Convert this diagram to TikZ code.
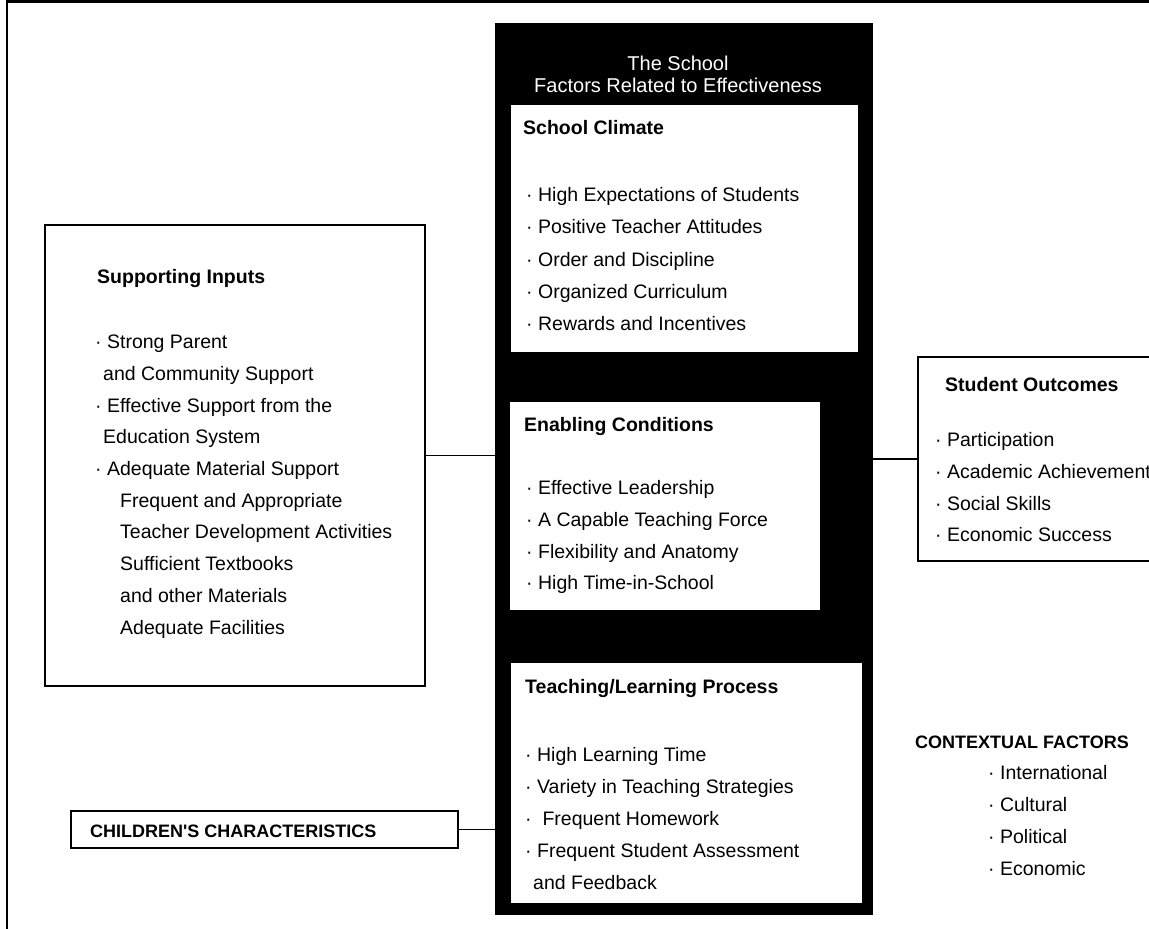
\documentclass[tikz,border=0pt]{standalone}
\usepackage{fontspec}
\setmainfont{Liberation Sans}
\usetikzlibrary{positioning}

\begin{document}
\begin{tikzpicture}[x=1pt, y=-1pt,
  panel/.style={draw, line width=1.9pt, fill=white, inner sep=0pt, anchor=north west},
  inbox/.style={fill=white, inner sep=0pt, anchor=north west},
  head/.style={anchor=base west, inner sep=0pt, font=\fontsize{19.5}{24}\selectfont\bfseries},
  item/.style={anchor=base west, inner sep=0pt, font=\fontsize{19.5}{24}\selectfont},
  caps/.style={anchor=base west, inner sep=0pt, font=\fontsize{18}{22}\selectfont\bfseries},
  link/.style={line width=1.9pt}]
  \useasboundingbox (0,0) rectangle (1149,929);
  \clip (0,0) rectangle (1149,929);
  % frame
  \draw[line width=2.4pt] (7,929) -- (7,1.5) -- (1149,1.5);

  % the school column
  \node[fill=black, inner sep=0pt, anchor=north west, minimum width=378, minimum height=892] (school) at (495,23) {};
  \node[text=white, align=center, inner sep=0pt, font=\fontsize{20}{22}\selectfont] (title) at (678,74) {The School\\Factors Related to Effectiveness};
  \node[inbox, minimum width=347, minimum height=247] (climate) at (511,105) {};
  \node[inbox, minimum width=310, minimum height=208] (enabling) at (510,402) {};
  \node[inbox, minimum width=351, minimum height=240] (teaching) at (511,663) {};

  \node[head] (climhead) at (523,134.7) {School Climate};
  \foreach \t [count=\i] in {High Expectations of Students, Positive Teacher Attitudes, Order and Discipline, Organized Curriculum, Rewards and Incentives}
    \node[item] (clim\i) at (526,{201.7+32.25*(\i-1)}) {· \t};

  \node[head] (enabhead) at (524,431.7) {Enabling Conditions};
  \foreach \t [count=\i] in {Effective Leadership, A Capable Teaching Force, Flexibility and Anatomy, High Time-in-School}
    \node[item] (enab\i) at (526,{494.7+31.7*(\i-1)}) {· \t};

  \node[head] (teachhead) at (525,693.7) {Teaching/Learning Process};
  \foreach \x/\t [count=\i] in {525/· High Learning Time, 525/· Variety in Teaching Strategies, 525/·\ \ Frequent Homework, 525/· Frequent Student Assessment, 533/and Feedback}
    \node[item] (teach\i) at (\x,{761.7+32*(\i-1)}) {\t};

  % supporting inputs
  \node[panel, minimum width=380, minimum height=461] (inputs) at (44,224) {};
  \node[head] (inhead) at (97,283.7) {Supporting Inputs};
  \foreach \x/\t [count=\i] in {95/· Strong Parent, 103/and Community Support, 95/· Effective Support from the, 103/Education System, 95/· Adequate Material Support, 120/Frequent and Appropriate, 120/Teacher Development Activities, 120/Sufficient Textbooks, 120/and other Materials, 120/Adequate Facilities}
    \node[item] (in\i) at (\x,{348.7+31.7*(\i-1)}) {\t};

  % children
  \node[panel, minimum width=387, minimum height=37] (kids) at (70,810) {};
  \node[caps] (kidstext) at (90,837.4) {CHILDREN\textquotesingle S CHARACTERISTICS};

  % outcomes
  \node[panel, minimum width=260, minimum height=204] (outcomes) at (917,356) {};
  \node[head] (outhead) at (945,391.7) {Student Outcomes};
  \foreach \t [count=\i] in {Participation, Academic Achievement, Social Skills, Economic Success}
    \node[item] (out\i) at (935,{446.7+31.7*(\i-1)}) {· \t};

  % contextual factors
  \node[caps] (ctxhead) at (915,748.4) {CONTEXTUAL FACTORS};
  \foreach \t [count=\i] in {International, Cultural, Political, Economic}
    \node[item] (ctx\i) at (988,{779.7+32*(\i-1)}) {· \t};

  % links
  \draw[link] (inputs.east) -- (inputs.east -| school.west);
  \draw[link] (kids.east) -- (kids.east -| school.west);
  \draw[link] (school.east |- outcomes.west) -- (outcomes.west);
\end{tikzpicture}
\end{document}
